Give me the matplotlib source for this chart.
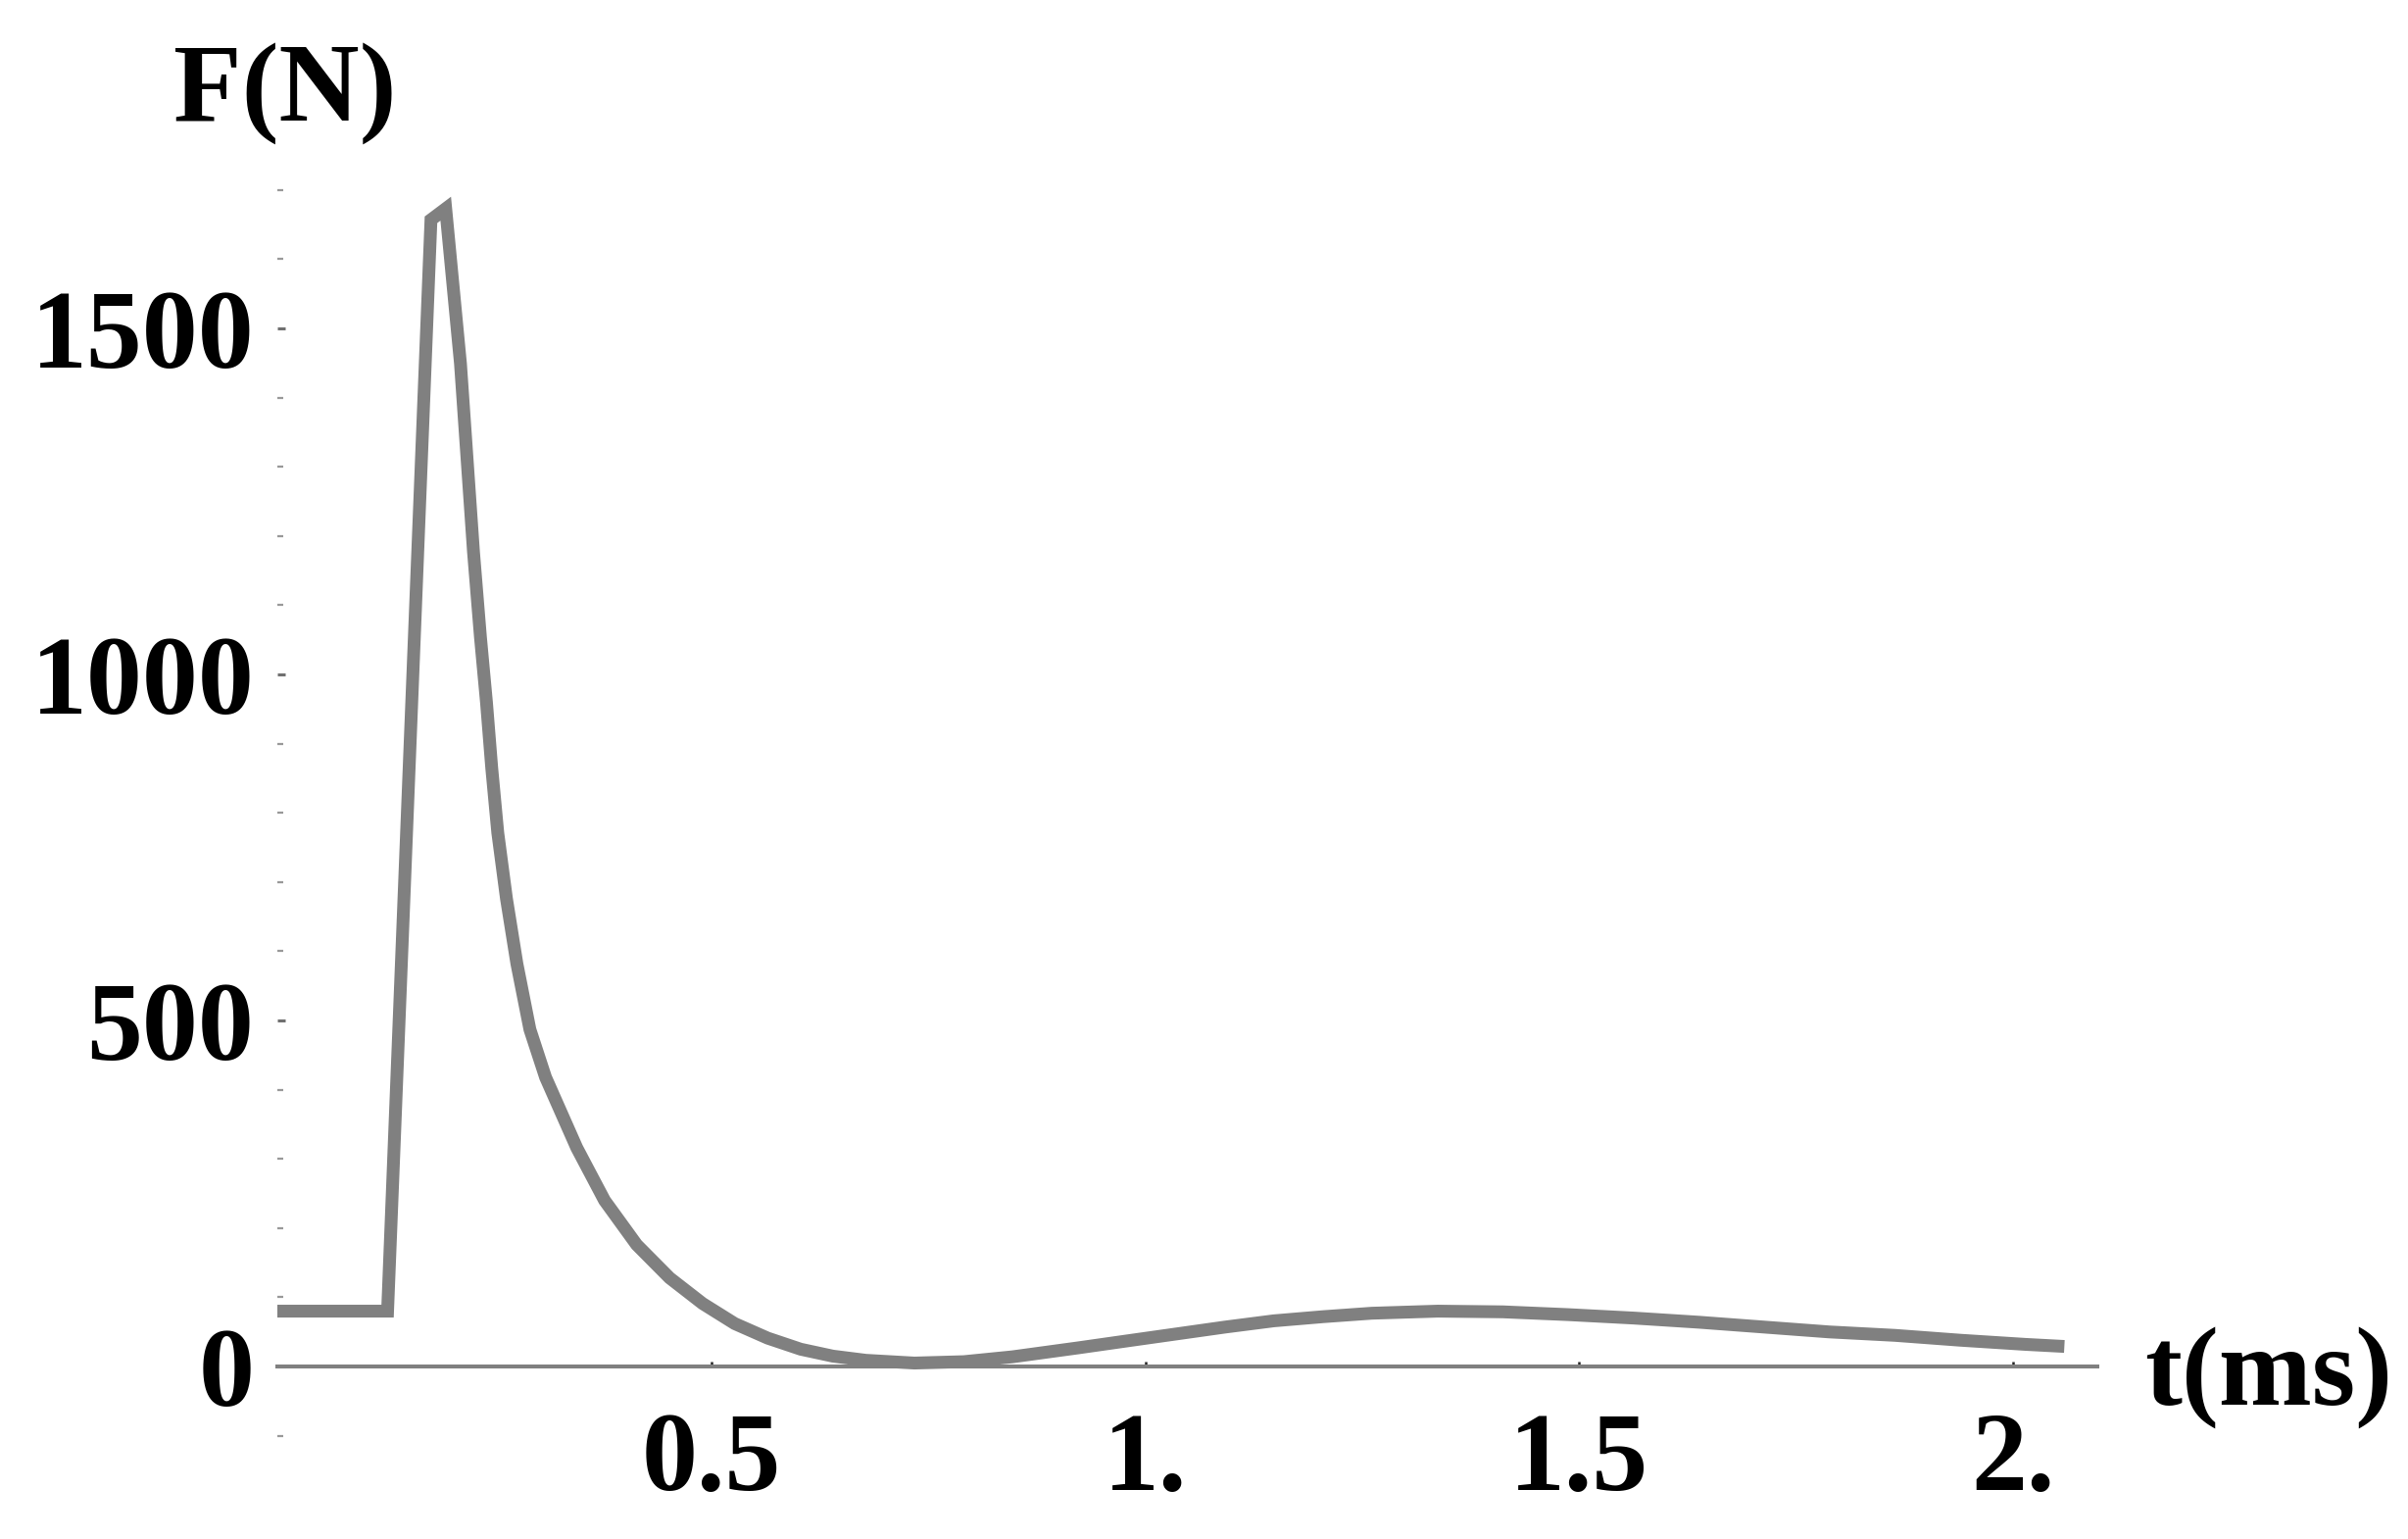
import matplotlib
matplotlib.use("Agg")
import matplotlib.pyplot as plt
from matplotlib.ticker import MultipleLocator, FixedLocator

# ---- data ----
time_ms = [0.0, 0.127, 0.152, 0.177, 0.194, 0.211, 0.226, 0.234, 0.241, 0.247,
           0.254, 0.264, 0.276, 0.291, 0.309, 0.345, 0.377, 0.414, 0.452, 0.490,
           0.527, 0.565, 0.603, 0.640, 0.678, 0.734, 0.791, 0.847, 0.923, 0.979,
           1.092, 1.148, 1.205, 1.261, 1.337, 1.412, 1.487, 1.563, 1.638, 1.713,
           1.788, 1.864, 1.939, 2.014, 2.059]
force_N = [80, 80, 870, 1657, 1673, 1449, 1177, 1054, 959, 865,
           771, 676, 582, 487, 418, 316, 240, 176, 128, 91,
           62, 41, 25, 15, 9, 5, 7, 14, 27, 37,
           57, 66, 72, 77, 80, 79, 75, 70, 64, 57,
           50, 45, 38, 32, 29]

x_ticks = [0.5, 1.0, 1.5, 2.0]
x_tick_labels = ["0.5", "1.", "1.5", "2."]
y_ticks = [0, 500, 1000, 1500]
y_tick_labels = ["0", "500", "1000", "1500"]

W, H = 2457, 1570
fig = plt.figure(figsize=(W / 100, H / 100), dpi=100)
fig.patch.set_facecolor("white")

ax = fig.add_axes([283 / W, (H - 1471.7) / H, 1857 / W, 1292 / H])
ax.set_xlim(0, 2.097)
ax.set_ylim(-110, 1720)
ax.patch.set_alpha(0)

ax.plot(time_ms, force_N, color="#808080", lw=9.4, solid_capstyle="butt",
        solid_joinstyle="miter", clip_on=False, zorder=3)

for s in ["top", "right", "left"]:
    ax.spines[s].set_visible(False)
ax.spines["bottom"].set_position(("data", 0))
ax.spines["bottom"].set_color("#808080")
ax.spines["bottom"].set_linewidth(2.9)
ax.spines["bottom"].set_zorder(2)

font = dict(family=["Liberation Serif", "DejaVu Serif"], weight="bold", size=82)

ax.xaxis.set_major_locator(FixedLocator(x_ticks))
ax.set_xticklabels(x_tick_labels, fontdict=font)
ax.yaxis.set_major_locator(FixedLocator(y_ticks))
ax.yaxis.set_minor_locator(MultipleLocator(100))
ax.set_yticklabels(y_tick_labels, fontdict=font)

ax.tick_params(axis="x", which="major", direction="in", length=3.8, width=1.8,
               color="#222222", pad=33)
ax.tick_params(axis="y", which="major", direction="in", length=5.8, width=2.2,
               color="#707070", pad=17)
ax.tick_params(axis="y", which="minor", direction="in", length=4.0, width=1.6,
               color="#999999")

fig.text(177 / W, (H - 123) / H, "F(N)", ha="left", va="baseline", **font)
fig.text(2188 / W, (H - 1433) / H, "t(ms)", ha="left", va="baseline", **font)

fig.savefig("out.png", dpi=100, facecolor="white")
